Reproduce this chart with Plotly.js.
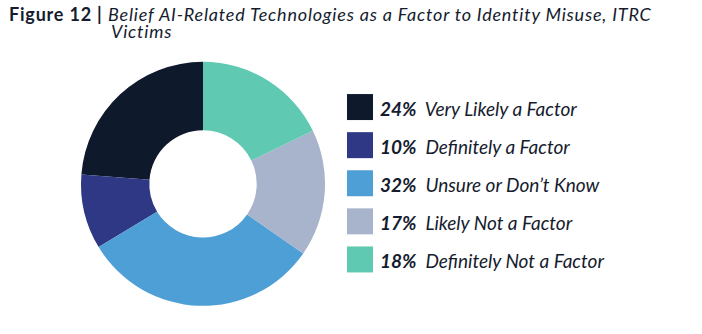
<!DOCTYPE html>
<html>
<head>
<meta charset="utf-8">
<script src="https://cdn.plot.ly/plotly-3.0.1.min.js"></script>
<style>
  html, body { margin: 0; padding: 0; background: #ffffff; }
  #chart { width: 702px; height: 334px; }
</style>
</head>
<body>
<div id="chart"></div>
<script>
// Survey responses: does the victim believe AI played a part in the misuse?
const categories = [
  'Very Likely a Factor',
  'Definitely a Factor',
  'Unsure or Don\u2019t Know',
  'Likely Not a Factor',
  'Definitely Not a Factor'
];
const shares = [24, 10, 32, 17, 18];
const sliceColors = ['#0f192c', '#2e3884', '#4d9fd6', '#a8b4cb', '#60c9b1'];

const textColor = '#151c2e';
const fontFamily = 'Lato, "Open Sans", sans-serif';
const titleSpacing = '<span style="letter-spacing:0.8px">';

// Legend entries: bold percentage followed by the label
const legendNames = categories.map((c, i) =>
  '<span style="font-size:19px"><b>' + shares[i] + '%</b>\u00a0 ' + c + '</span>');

// Counterclockwise pies in Plotly place the first slice clockwise of the
// rotation angle, so turn back by its share to start it at 12 o'clock.
const total = shares.reduce((a, b) => a + b, 0);
const startRotation = -360 * shares[0] / total;

const trace = {
  type: 'pie',
  labels: legendNames,
  values: shares,
  hole: 0.44,
  sort: false,
  direction: 'counterclockwise',
  rotation: startRotation,
  textinfo: 'none',
  hoverinfo: 'skip',
  marker: { colors: sliceColors, line: { width: 0 } },
  domain: { x: [0.1154, 0.4630], y: [0.084, 0.815] }
};

const layout = {
  width: 702,
  height: 334,
  margin: { l: 0, r: 0, t: 0, b: 0 },
  paper_bgcolor: '#ffffff',
  font: { family: fontFamily, color: textColor },
  title: {
    text: titleSpacing + '<b>Figure 12 |</b> <i>Belief AI-Related Technologies as a Factor to Identity Misuse, ITRC</i></span>',
    font: { family: fontFamily, size: 18, color: textColor },
    x: 9 / 702,
    xanchor: 'left',
    xref: 'container',
    y: 1 - 15 / 334,
    yanchor: 'middle',
    yref: 'container'
  },
  annotations: [{
    text: titleSpacing + '<i>Victims</i></span>',
    xref: 'paper', yref: 'paper',
    x: 109 / 702, y: 1 - 30.5 / 334,
    xanchor: 'left', yanchor: 'middle',
    showarrow: false,
    font: { family: fontFamily, size: 18, color: textColor }
  }],
  showlegend: true,
  legend: {
    x: 340 / 702,
    xanchor: 'left',
    y: 1 - 81 / 334,
    yanchor: 'top',
    font: { family: fontFamily, size: 27, color: textColor, style: 'italic' },
    bgcolor: 'rgba(0,0,0,0)',
    borderwidth: 0
  }
};

Plotly.newPlot('chart', [trace], layout, { displayModeBar: false, staticPlot: true })
  .then(function (gd) {
    // enlarge the legend swatches to 26px squares, set slightly below the text centre
    gd.querySelectorAll('.legend .legendpoints path').forEach(function (p) {
      p.setAttribute('d', 'M13,15H-13V-11H13Z');
    });
  });
</script>
</body>
</html>
